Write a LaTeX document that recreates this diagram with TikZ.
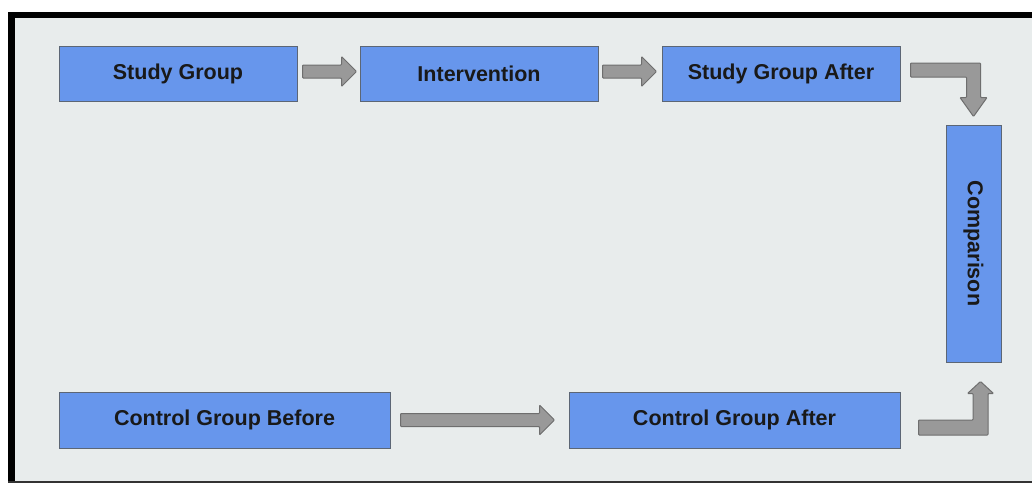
\documentclass[tikz,border=0pt]{standalone}
\usepackage{fontspec}
\setmainfont{Liberation Sans}
\usetikzlibrary{calc}
\definecolor{bgc}{HTML}{E8ECEC}
\definecolor{boxc}{HTML}{6796EC}
\definecolor{boxd}{HTML}{5C6675}
\definecolor{arrc}{HTML}{999999}
\definecolor{arrd}{HTML}{6E6E6E}
\tikzset{
  box/.style={draw=boxd, line width=1pt, fill=boxc, inner sep=0pt,
    font=\fontsize{21.5}{24}\selectfont\bfseries, text=black!90},
  blk/.style={draw=arrd, fill=arrc, line width=1pt, rounded corners=0.8pt},
}
\begin{document}
\begin{tikzpicture}[x=1pt,y=-1pt]
\useasboundingbox (0,0) rectangle (1032,485);
\fill[white] (0,0) rectangle (1032,485);
\fill[bgc] (8,12) rectangle (1032,483);
\fill[black] (8,12) rectangle (15,483);
\fill[black] (8,12) rectangle (1032,18);
\fill[black!80] (8,481) rectangle (1032,483);

\node[box, minimum width=238pt, minimum height=55pt] (sg) at (178,73.5) {Study Group};
\node[box, minimum width=238pt, minimum height=55pt] (int) at (479,73.5) {Intervention};
\node[box, minimum width=238pt, minimum height=55pt] (sga) at (781,73.5) {Study Group After};
\node[box, minimum width=237pt, minimum height=55pt, rotate=-90] (cmp) at (973.5,243.5) {Comparison};
\node[box, minimum width=331pt, minimum height=56pt] (cgb) at (224.5,420) {Control Group Before};
\node[box, minimum width=331pt, minimum height=56pt] (cga) at (734.5,420) {Control Group After};

% straight block arrows: start centre s, tip t
\coordinate (s1) at ($(sg.east)+(5,-2)$);
\coordinate (t1) at ($(int.west)+(-3,-2)$);
\coordinate (s2) at ($(int.east)+(4,-2)$);
\coordinate (t2) at ($(sga.west)+(-5,-2)$);
\coordinate (s3) at ($(cgb.east)+(10,1.5)$);
\coordinate (t3) at ($(cga.west)+(-14,0)$);
\foreach \s/\t in {s1/t1, s2/t2, s3/t3}{
  \draw[blk] let \p1=(\s), \p2=(\t) in
    (\x1,\y2+6.5pt) -- (\x2-15pt,\y2+6.5pt) -- (\x2-15pt,\y2+15pt) -- (\x2,\y2)
    -- (\x2-15pt,\y2-15pt) -- (\x2-15pt,\y2-6.5pt) -- (\x1,\y2-6.5pt) -- cycle;
}

% elbow: study group after -> comparison (down)
\coordinate (s4) at ($(sga.east)+(10,-3.5)$);
\coordinate (t4) at ($(cmp.west)+(0,-8)$);
\draw[blk] let \p1=(s4), \p2=(t4) in
  (\x1,\y1+7pt) -- (\x2+7pt,\y1+7pt) -- (\x2+7pt,\y2+19pt) -- (\x2+13.5pt,\y2+19pt)
  -- (\x2,\y2) -- (\x2-13.5pt,\y2+19pt) -- (\x2-7pt,\y2+19pt) -- (\x2-7pt,\y1-7pt)
  -- (\x1,\y1-7pt) -- cycle;

% elbow: control group after -> comparison (up)
\coordinate (s5) at ($(cga.east)+(18,7.5)$);
\coordinate (t5) at ($(cmp.east)+(7,19)$);
\draw[blk] let \p1=(s5), \p2=(t5) in
  (\x1,\y1+7.5pt) -- (\x2-7.5pt,\y1+7.5pt) -- (\x2-7.5pt,\y2-12pt) -- (\x2-13pt,\y2-12pt)
  -- (\x2,\y2) -- (\x2+13pt,\y2-12pt) -- (\x2+7.5pt,\y2-12pt) -- (\x2+7.5pt,\y1-7.5pt)
  -- (\x1,\y1-7.5pt) -- cycle;
\end{tikzpicture}
\end{document}
